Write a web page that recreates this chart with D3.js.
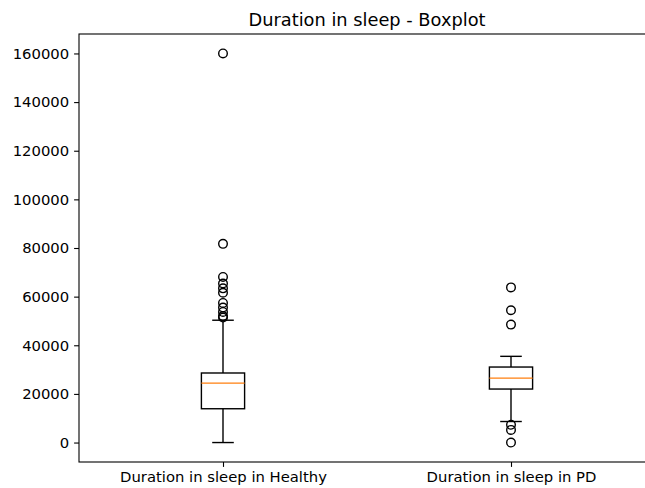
<!DOCTYPE html>
<html>
<head>
<meta charset="utf-8">
<script src="https://cdn.jsdelivr.net/npm/d3@7"></script>
<style>
  body { margin: 0; background: #fff; }
  text { font-family: "DejaVu Sans", sans-serif; fill: #000; }
</style>
</head>
<body>
<svg id="wrapper"></svg>
<script>
// box stats
let categories = ['Duration in sleep in Healthy', 'Duration in sleep in PD'];
let q1 = [13900, 22000];
let medians = [24450, 26500];
let q3 = [28600, 31050];
let whiskLow = [0, 8650];
let whiskHigh = [50300, 35450];
let outliers = [
  [160000, 81700, 68100, 65400, 63400, 61600, 57400, 55500, 53700, 52000, 51400],
  [63800, 54400, 48500, 7300, 5200, 0]
];
let yTicks = [0, 20000, 40000, 60000, 80000, 100000, 120000, 140000, 160000];

let width = 645, height = 488;
let mLeft = 79, mRight = 655, mTop = 34, mBottom = 462;

let svg = d3.select('#wrapper')
  .attr('width', width)
  .attr('height', height);

let xScale = d3.scaleLinear()
  .domain([0.5, 2.5])
  .range([mLeft, mRight]);

let yScale = d3.scaleLinear()
  .domain([-8000, 168000])
  .range([mBottom, mTop]);

let boxW = xScale(0.15) - xScale(0);
let lw = 1.4;

let data = categories.map(function(c, i) {
  return {name: c, pos: i + 1, q1: q1[i], med: medians[i], q3: q3[i],
    lo: whiskLow[i], hi: whiskHigh[i], out: outliers[i]};
});

let g = svg.selectAll('.box').data(data).enter().append('g').attr('class', 'box');

// whiskers
g.append('line')
  .attr('x1', d => xScale(d.pos)).attr('x2', d => xScale(d.pos))
  .attr('y1', d => yScale(d.q3)).attr('y2', d => yScale(d.hi))
  .attr('stroke', '#000').attr('stroke-width', lw);
g.append('line')
  .attr('x1', d => xScale(d.pos)).attr('x2', d => xScale(d.pos))
  .attr('y1', d => yScale(d.q1)).attr('y2', d => yScale(d.lo))
  .attr('stroke', '#000').attr('stroke-width', lw);

// caps
['hi', 'lo'].forEach(function(k) {
  g.append('line')
    .attr('x1', d => xScale(d.pos) - boxW / 4).attr('x2', d => xScale(d.pos) + boxW / 4)
    .attr('y1', d => yScale(d[k])).attr('y2', d => yScale(d[k]))
    .attr('stroke', '#000').attr('stroke-width', lw);
});

// box
g.append('rect')
  .attr('x', d => xScale(d.pos) - boxW / 2)
  .attr('width', boxW)
  .attr('y', d => yScale(d.q3))
  .attr('height', d => yScale(d.q1) - yScale(d.q3))
  .attr('fill', 'none').attr('stroke', '#000').attr('stroke-width', lw);

// median
g.append('line')
  .attr('x1', d => xScale(d.pos) - boxW / 2).attr('x2', d => xScale(d.pos) + boxW / 2)
  .attr('y1', d => yScale(d.med)).attr('y2', d => yScale(d.med))
  .attr('stroke', '#ff7f0e').attr('stroke-width', lw);

// fliers
g.each(function(d) {
  d3.select(this).selectAll('circle').data(d.out).enter().append('circle')
    .attr('cx', xScale(d.pos))
    .attr('cy', v => yScale(v))
    .attr('r', 4.3)
    .attr('fill', 'none').attr('stroke', '#000').attr('stroke-width', lw);
});

// axes
let yAxis = d3.axisLeft(yScale).tickValues(yTicks).tickFormat(d3.format('d'))
  .tickSize(4.9).tickPadding(4.9);
let xAxis = d3.axisBottom(xScale).tickValues([1, 2])
  .tickFormat((d, i) => categories[i]).tickSize(4.9).tickPadding(4.9);

let ya = svg.append('g').attr('transform', 'translate(' + mLeft + ',0)').call(yAxis);
let xa = svg.append('g').attr('transform', 'translate(0,' + mBottom + ')').call(xAxis);
[ya, xa].forEach(function(a) {
  a.select('.domain').remove();
  a.selectAll('line').attr('stroke', '#000').attr('stroke-width', 1.1);
  a.selectAll('text').style('font-size', '14.8px').style('font-family', '"DejaVu Sans", sans-serif');
});

// frame
svg.append('rect')
  .attr('x', mLeft).attr('y', mTop)
  .attr('width', mRight - mLeft).attr('height', mBottom - mTop)
  .attr('fill', 'none').attr('stroke', '#000').attr('stroke-width', 1.1);

svg.append('text')
  .attr('x', (mLeft + mRight) / 2).attr('y', mTop - 8)
  .attr('text-anchor', 'middle')
  .style('font-size', '17.8px')
  .text('Duration in sleep - Boxplot');
</script>
</body>
</html>
